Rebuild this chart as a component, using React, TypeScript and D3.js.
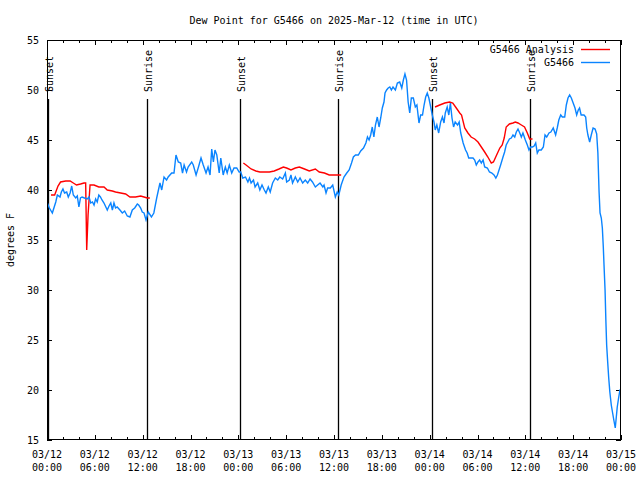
import React, { useEffect, useRef } from 'react';
import * as d3 from 'd3';

// hours since 2025-03-12 00:00 UTC, degrees F
const stationSeries: [number, number][] = [
  [0.05, 38.7], [0.3, 38.2], [0.67, 37.7], [1.1, 38.8], [1.3, 39.5], [1.63, 39.3], [1.8, 39.8], [2.0, 40.1],
  [2.2, 39.7], [2.47, 39.8], [2.67, 39.3], [2.9, 39.7], [3.1, 40.4], [3.3, 39.5], [3.6, 39.2], [3.8, 39.4],
  [4.0, 38.3], [4.2, 39.2], [4.4, 39.3], [4.7, 39.2], [5.05, 39.1], [5.27, 39.3], [5.48, 38.7], [5.7, 38.8],
  [5.9, 38.5], [6.1, 39.1], [6.3, 38.8], [6.5, 39.5], [6.7, 39.3], [6.9, 39.0], [7.15, 38.7], [7.56, 38.0],
  [7.78, 38.4], [8.0, 38.7], [8.2, 38.0], [8.4, 38.7], [8.6, 38.2], [8.8, 38.3], [9.15, 38.0], [9.45, 37.7],
  [9.74, 37.9], [10.07, 37.4], [10.4, 37.3], [10.7, 38.0], [11.0, 38.2], [11.33, 38.6], [11.5, 38.5], [11.75, 38.2],
  [11.95, 37.8], [12.17, 37.7], [12.42, 37.0], [12.7, 37.8], [13.1, 37.3], [13.4, 37.7], [13.76, 39.2], [14.17, 40.7],
  [14.39, 40.0], [14.68, 41.3], [15.0, 41.0], [15.2, 41.3], [15.64, 41.7], [15.93, 41.7], [16.18, 43.5], [16.47, 42.8],
  [16.77, 42.7], [17.0, 41.7], [17.2, 42.5], [17.5, 41.8], [17.7, 42.3], [18.15, 42.8], [18.35, 42.5], [18.7, 41.5],
  [19.0, 42.3], [19.32, 43.2], [19.6, 42.5], [19.95, 41.7], [20.2, 42.3], [20.45, 41.5], [20.66, 44.1], [20.87, 42.8],
  [21.07, 44.0], [21.3, 43.5], [21.6, 41.7], [21.8, 43.2], [22.1, 41.5], [22.37, 42.3], [22.6, 41.7], [22.87, 42.5],
  [23.17, 41.7], [23.46, 42.2], [23.8, 42.2], [24.1, 41.8], [24.3, 41.8], [24.55, 41.2], [24.9, 41.3], [25.2, 40.8],
  [25.4, 41.2], [25.6, 40.7], [25.9, 41.0], [26.1, 40.3], [26.43, 40.7], [26.7, 40.0], [26.97, 40.5], [27.26, 40.0],
  [27.47, 39.7], [27.76, 40.3], [28.0, 39.8], [28.3, 40.7], [28.64, 41.2], [28.94, 41.0], [29.2, 41.3], [29.56, 41.1],
  [29.9, 41.7], [30.06, 40.8], [30.4, 41.0], [30.6, 41.5], [30.8, 40.7], [31.15, 41.3], [31.45, 40.8], [31.74, 41.2],
  [32.07, 40.7], [32.4, 41.0], [32.7, 40.7], [33.0, 41.1], [33.3, 40.8], [33.66, 40.3], [33.95, 40.5], [34.25, 40.7],
  [34.6, 40.3], [34.75, 40.5], [35.0, 39.7], [35.2, 40.2], [35.54, 40.2], [35.84, 40.5], [36.17, 39.3], [36.4, 39.8],
  [36.6, 39.5], [36.9, 40.5], [37.25, 41.3], [37.6, 41.7], [37.9, 42.0], [38.2, 42.7], [38.43, 43.3], [38.7, 43.5],
  [39.05, 43.5], [39.35, 43.9], [39.7, 44.2], [40.0, 44.7], [40.2, 45.3], [40.4, 45.0], [40.6, 45.5], [40.8, 46.3],
  [41.0, 45.3], [41.2, 46.5], [41.43, 47.3], [41.65, 46.3], [41.86, 47.2], [42.06, 48.2], [42.27, 48.8], [42.4, 49.7],
  [42.6, 50.0], [42.8, 50.2], [43.0, 50.3], [43.2, 50.0], [43.4, 50.3], [43.7, 50.0], [43.95, 50.7], [44.24, 50.8],
  [44.5, 50.2], [44.7, 51.0], [44.9, 51.6], [45.1, 51.0], [45.3, 48.8], [45.5, 47.7], [45.7, 49.2], [45.95, 49.2],
  [46.2, 48.3], [46.4, 48.5], [46.66, 46.7], [46.87, 47.5], [47.1, 47.5], [47.3, 48.5], [47.5, 49.3], [47.7, 49.7],
  [47.9, 49.2], [48.13, 48.3], [48.33, 47.5], [48.54, 46.8], [48.7, 46.0], [48.9, 46.5], [49.13, 45.7], [49.38, 46.8],
  [49.6, 47.3], [49.8, 46.7], [49.96, 47.7], [50.2, 48.3], [50.4, 47.5], [50.6, 48.7], [50.8, 47.2], [51.0, 46.3],
  [51.2, 46.8], [51.5, 46.5], [51.7, 46.8], [51.9, 45.7], [52.2, 44.7], [52.5, 44.0], [52.7, 43.7], [52.9, 43.2],
  [53.44, 43.2], [53.65, 43.0], [53.85, 42.5], [54.06, 42.8], [54.27, 43.0], [54.48, 42.7], [54.7, 43.0], [54.9, 42.3],
  [55.24, 42.2], [55.5, 41.8], [55.8, 41.7], [56.07, 41.5], [56.3, 41.2], [56.5, 41.5], [56.7, 42.0], [56.9, 42.5],
  [57.2, 43.3], [57.4, 43.8], [57.6, 44.5], [57.8, 44.8], [58.0, 45.1], [58.24, 45.2], [58.45, 45.5], [58.67, 45.3],
  [58.87, 45.8], [59.08, 46.1], [59.3, 45.7], [59.5, 45.3], [59.7, 45.7], [60.0, 45.0], [60.25, 44.5], [60.46, 44.0],
  [60.67, 44.3], [60.9, 44.3], [61.1, 44.4], [61.3, 44.7], [61.5, 43.7], [61.7, 44.0], [62.0, 44.0], [62.26, 44.3],
  [62.47, 45.5], [62.68, 45.3], [62.97, 45.7], [63.2, 45.8], [63.5, 46.2], [63.8, 45.5], [64.0, 46.2], [64.2, 47.0],
  [64.44, 47.5], [64.64, 47.3], [64.94, 47.3], [65.14, 48.5], [65.35, 49.2], [65.56, 49.5], [65.77, 49.2], [66.0, 48.7],
  [66.23, 48.2], [66.44, 47.5], [66.64, 48.0], [66.8, 48.2], [67.0, 47.5], [67.36, 47.5], [67.57, 47.3], [67.7, 46.2],
  [67.85, 45.5], [68.07, 44.8], [68.27, 45.5], [68.5, 46.2], [68.75, 46.1], [68.95, 45.6], [69.1, 43.7], [69.25, 39.8],
  [69.37, 37.7], [69.53, 37.2], [69.66, 36.2], [69.78, 34.3], [69.87, 32.5], [70.0, 30.0], [70.1, 27.0], [70.2, 24.5],
  [70.33, 22.8], [70.46, 21.2], [70.6, 19.8], [70.78, 18.5], [70.95, 17.7], [71.1, 17.0], [71.28, 16.2], [71.4, 17.2],
  [71.53, 18.3], [71.7, 19.2], [71.87, 20.0], [72.0, 20.0],
];

const analysisDay1: [number, number][] = [
  [0.5, 39.5], [0.96, 39.5], [1.38, 40.4], [1.7, 40.8], [2.35, 40.9], [2.9, 40.9], [3.3, 40.7], [3.7, 40.5],
  [4.2, 40.6], [4.64, 40.7], [4.85, 40.7], [4.98, 34.0], [5.15, 37.5], [5.4, 40.5], [5.9, 40.5], [6.5, 40.3],
  [7.15, 40.3], [7.56, 40.0], [8.2, 39.9], [8.6, 39.8], [9.24, 39.7], [9.87, 39.6], [10.4, 39.3], [11.1, 39.3],
  [11.75, 39.4], [12.17, 39.3], [12.58, 39.2], [12.9, 39.2],
];
const analysisDay2: [number, number][] = [
  [24.63, 42.7], [24.97, 42.5], [25.6, 42.1], [26.2, 41.9], [26.7, 41.8], [27.9, 41.8], [28.5, 41.9], [29.1, 42.1],
  [29.65, 42.3], [30.06, 42.2], [30.6, 42.0], [31.15, 42.2], [31.65, 42.3], [32.3, 42.1], [32.9, 41.9], [33.66, 42.1],
  [34.15, 41.8], [34.8, 41.7], [35.4, 41.5], [36.25, 41.5], [36.9, 41.5],
];
const analysisDay3: [number, number][] = [
  [48.67, 48.3], [49.26, 48.5], [49.9, 48.7], [50.5, 48.8], [50.9, 48.7], [51.34, 48.2], [51.77, 47.7], [52.0, 47.5],
  [52.4, 46.2], [52.8, 45.7], [53.2, 45.3], [53.65, 45.1], [54.06, 44.8], [54.48, 44.3], [54.9, 43.8], [55.3, 43.3],
  [55.73, 42.7], [56.0, 42.8], [56.4, 43.5], [56.8, 44.2], [57.1, 44.5], [57.35, 45.2], [57.6, 46.3], [58.0, 46.6],
  [58.45, 46.7], [58.74, 46.8], [59.08, 46.7], [59.5, 46.5], [59.9, 46.3], [60.25, 45.7], [60.55, 45.1], [60.9, 45.1],
];

const sunEvents: [number, string][] = [
  [0.16, 'Sunset'], [12.55, 'Sunrise'], [24.2, 'Sunset'], [36.5, 'Sunrise'], [48.3, 'Sunset'], [60.6, 'Sunrise'],
];

const xTickHours = [0, 6, 12, 18, 24, 30, 36, 42, 48, 54, 60, 66, 72];
const xTickDates = ['03/12', '03/12', '03/12', '03/12', '03/13', '03/13', '03/13', '03/13', '03/14', '03/14', '03/14', '03/14', '03/15'];
const xTickTimes = ['00:00', '06:00', '12:00', '18:00', '00:00', '06:00', '12:00', '18:00', '00:00', '06:00', '12:00', '18:00', '00:00'];
const yTicks = [15, 20, 25, 30, 35, 40, 45, 50, 55];

const FONT = '"DejaVu Sans Mono", "Liberation Mono", monospace';
const RED = '#ff0000';
const BLUE = '#0a84ff';

export default function App() {
  const svgRef = useRef<SVGSVGElement>(null);

  useEffect(() => {
    if (!svgRef.current) return;
    const svg = d3.select(svgRef.current);
    svg.selectAll('*').remove();

    const left = 47, right = 621, top = 40, bottom = 440;
    const x = d3.scaleLinear().domain([0, 72]).range([left, right]);
    const y = d3.scaleLinear().domain([15, 55]).range([bottom, top]);
    const minorHours = d3.range(0, 72, 2).filter(h => h % 6 !== 0);

    svg.append('rect').attr('width', 640).attr('height', 480).attr('fill', '#fff');

    svg.append('text')
      .attr('x', 334).attr('y', 24)
      .attr('text-anchor', 'middle')
      .attr('font-family', FONT).attr('font-size', 10)
      .text('Dew Point for G5466 on 2025-Mar-12 (time in UTC)');

    // ticks (inward, mirrored)
    const tickStyle = (g: d3.Selection<SVGGElement, unknown, null, undefined>) => {
      g.select('.domain').remove();
      g.selectAll('line').attr('stroke', '#000').attr('shape-rendering', 'crispEdges');
      g.selectAll('text').remove();
    };
    svg.append('g').attr('transform', `translate(0,${bottom})`)
      .call(d3.axisBottom(x).tickValues(xTickHours).tickSize(-5)).call(tickStyle);
    svg.append('g').attr('transform', `translate(0,${bottom})`)
      .call(d3.axisBottom(x).tickValues(minorHours).tickSize(-3)).call(tickStyle);
    svg.append('g').attr('transform', `translate(0,${top})`)
      .call(d3.axisTop(x).tickValues(xTickHours).tickSize(-5)).call(tickStyle);
    svg.append('g').attr('transform', `translate(0,${top})`)
      .call(d3.axisTop(x).tickValues(minorHours).tickSize(-3)).call(tickStyle);
    svg.append('g').attr('transform', `translate(${right},0)`)
      .call(d3.axisRight(y).tickValues(yTicks).tickSize(-5)).call(tickStyle);

    const yAxis = svg.append('g').attr('transform', `translate(${left},0)`)
      .call(d3.axisLeft(y).tickValues(yTicks).tickSize(-5).tickPadding(8));
    yAxis.select('.domain').remove();
    yAxis.selectAll('line').attr('stroke', '#000').attr('shape-rendering', 'crispEdges');
    yAxis.selectAll('text').attr('font-family', FONT).attr('font-size', 10).attr('fill', '#000');

    // x tick labels, two lines
    const xl = svg.append('g').attr('font-family', FONT).attr('font-size', 10).attr('text-anchor', 'middle');
    xTickHours.forEach((h, i) => {
      xl.append('text').attr('x', x(h)).attr('y', 457.5).text(xTickDates[i]);
      xl.append('text').attr('x', x(h)).attr('y', 470.5).text(xTickTimes[i]);
    });

    svg.append('text')
      .attr('transform', 'translate(13.5,240) rotate(-90)')
      .attr('text-anchor', 'middle')
      .attr('font-family', FONT).attr('font-size', 10)
      .text('degrees F');

    // sunrise / sunset markers
    const sun = svg.append('g');
    sunEvents.forEach(([h, label]) => {
      const sx = Math.round(x(h)) + 0.5;
      sun.append('line')
        .attr('x1', sx).attr('x2', sx).attr('y1', 99).attr('y2', bottom)
        .attr('stroke', '#000').attr('stroke-width', 1.3);
      sun.append('text')
        .attr('transform', `translate(${sx + 4},92) rotate(-90)`)
        .attr('font-family', FONT).attr('font-size', 10)
        .text(label);
    });

    svg.append('clipPath').attr('id', 'plot-clip')
      .append('rect').attr('x', left).attr('y', top).attr('width', right - left).attr('height', bottom - top);

    const line = d3.line<[number, number]>().x(d => x(d[0])).y(d => y(d[1]));
    const series = svg.append('g').attr('clip-path', 'url(#plot-clip)').attr('fill', 'none')
      .attr('stroke-width', 1.4);
    [analysisDay1, analysisDay2, analysisDay3].forEach(seg => {
      series.append('path').datum(seg).attr('d', line).attr('stroke', RED);
    });
    series.append('path').datum(stationSeries).attr('d', line).attr('stroke', BLUE);

    // border
    svg.append('rect')
      .attr('x', left + 0.5).attr('y', top + 0.5).attr('width', right - left - 1).attr('height', bottom - top - 1)
      .attr('fill', 'none').attr('stroke', '#000').attr('shape-rendering', 'crispEdges');

    // legend
    const legend = svg.append('g').attr('font-family', FONT).attr('font-size', 10);
    [['G5466 Analysis', RED], ['G5466', BLUE]].forEach(([name, color], i) => {
      const ly = 49.5 + i * 13;
      legend.append('text').attr('x', 574).attr('y', ly + 3.5).attr('text-anchor', 'end').text(name);
      legend.append('line').attr('x1', 581).attr('x2', 610).attr('y1', ly).attr('y2', ly)
        .attr('stroke', color).attr('stroke-width', 1.4);
    });
  }, []);

  return (
    <svg ref={svgRef} width={640} height={480} style={{ position: 'absolute', left: 0, top: 0 }} />
  );
}
